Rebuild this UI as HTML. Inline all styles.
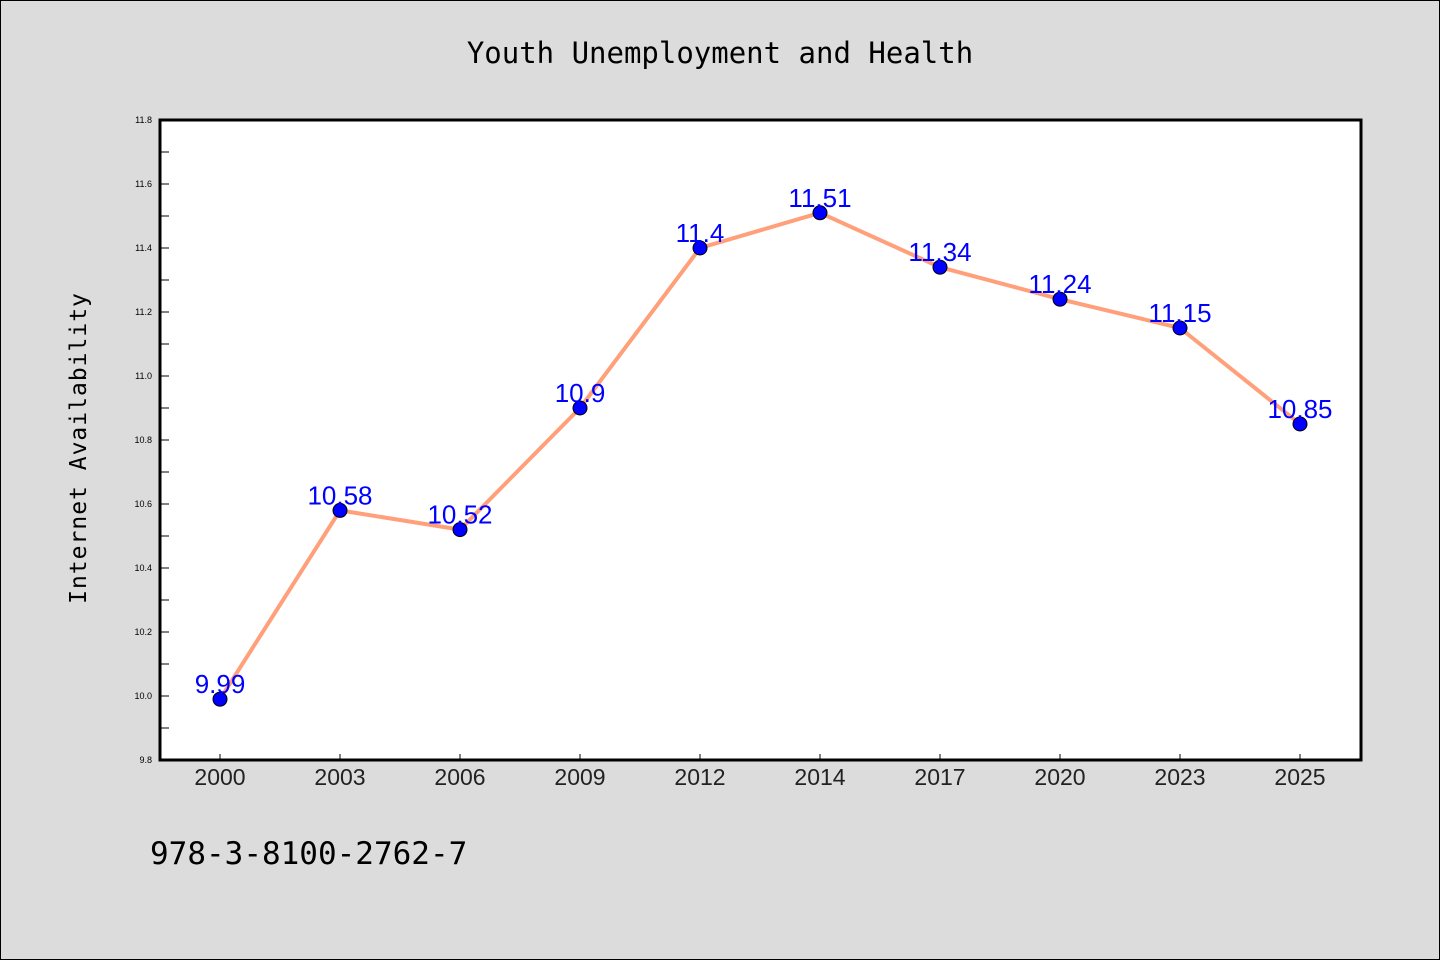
<!DOCTYPE html>
<html><head><meta charset="utf-8"><style>
body{margin:0;background:#dcdcdc}
svg{display:block}
</style></head><body>
<svg width="1440" height="960" xmlns="http://www.w3.org/2000/svg">
<rect x="0.5" y="0.5" width="1439" height="959" fill="#dcdcdc" stroke="#000"/>
<text x="720" y="63" text-anchor="middle" font-family="'WenQuanYi Zen Hei','DejaVu Sans Mono',monospace" font-size="29" fill="#000">Youth Unemployment and Health</text>
<rect x="160" y="120" width="1201" height="640" fill="#fff"/>
<g id="axes"></g>
<text transform="translate(86,448) rotate(-90)" text-anchor="middle" font-family="'WenQuanYi Zen Hei','DejaVu Sans Mono',monospace" font-size="23" letter-spacing="1" fill="#000">Internet Availability</text>
<text x="150" y="864" font-family="'WenQuanYi Zen Hei','DejaVu Sans Mono',monospace" font-size="31" fill="#000">978-3-8100-2762-7</text>
<g id="marks"></g>
<rect x="160" y="120" width="1201" height="640" fill="none" stroke="#000" stroke-width="3"/>
</svg>
<script>
const categories=["2000","2003","2006","2009","2012","2014","2017","2020","2023","2025"];
const values=[9.99,10.58,10.52,10.9,11.4,11.51,11.34,11.24,11.15,10.85];
const valueLabels=["9.99","10.58","10.52","10.9","11.4","11.51","11.34","11.24","11.15","10.85"];
const yTicks=[9.8,10.0,10.2,10.4,10.6,10.8,11.0,11.2,11.4,11.6,11.8];
const yMin=9.8,yMax=11.8;
const ns="http://www.w3.org/2000/svg";
const L=160,R=1361,T=120,B=760;
function x(i){return 220+i*120;}
function y(v){return B-(v-yMin)/(yMax-yMin)*(B-T);}
function mk(tag,attrs,parent){const e=document.createElementNS(ns,tag);for(const k in attrs)e.setAttribute(k,attrs[k]);parent.appendChild(e);return e;}
const axes=document.getElementById('axes'),marks=document.getElementById('marks');
for(let v=yMin;v<=yMax+1e-9;v+=0.1){
  const t=mk('line',{x1:L,x2:L+9,y1:y(v),y2:y(v),stroke:'#000','stroke-width':1},axes);
  
  
}
yTicks.forEach(v=>{
  const t=mk('text',{x:L-8,y:y(v)+3,'text-anchor':'end','font-family':'Liberation Sans, sans-serif','font-size':9,fill:'#000'},axes);
  t.textContent=v.toFixed(1);
  
  
});
categories.forEach((c,i)=>{
  const t=mk('line',{x1:x(i),x2:x(i),y1:B,y2:B-6,stroke:'#000','stroke-width':1},axes);
  
  
  const l=mk('text',{x:x(i),y:B+25,'text-anchor':'middle','font-family':"'WenQuanYi Zen Hei',Liberation Sans,sans-serif",'font-size':23,fill:'#222'},axes);
  l.textContent=c;
  
  
});
const pts=values.map((v,i)=>x(i)+','+y(v)).join(' ');
const line=mk('polyline',{points:pts,fill:'none',stroke:'#ffa07a','stroke-width':4,'stroke-linejoin':'round'},marks);


values.forEach((v,i)=>{
  const c=mk('circle',{cx:x(i),cy:y(v),r:7,fill:'#0000ff',stroke:'#000','stroke-width':1},marks);
  
  
});
values.forEach((v,i)=>{
  const t=mk('text',{x:x(i),y:y(v)-6,'text-anchor':'middle','font-family':'Liberation Sans, sans-serif','font-size':26,fill:'#0000ff'},marks);
  t.textContent=valueLabels[i];
  
  
});
</script>
</body></html>
